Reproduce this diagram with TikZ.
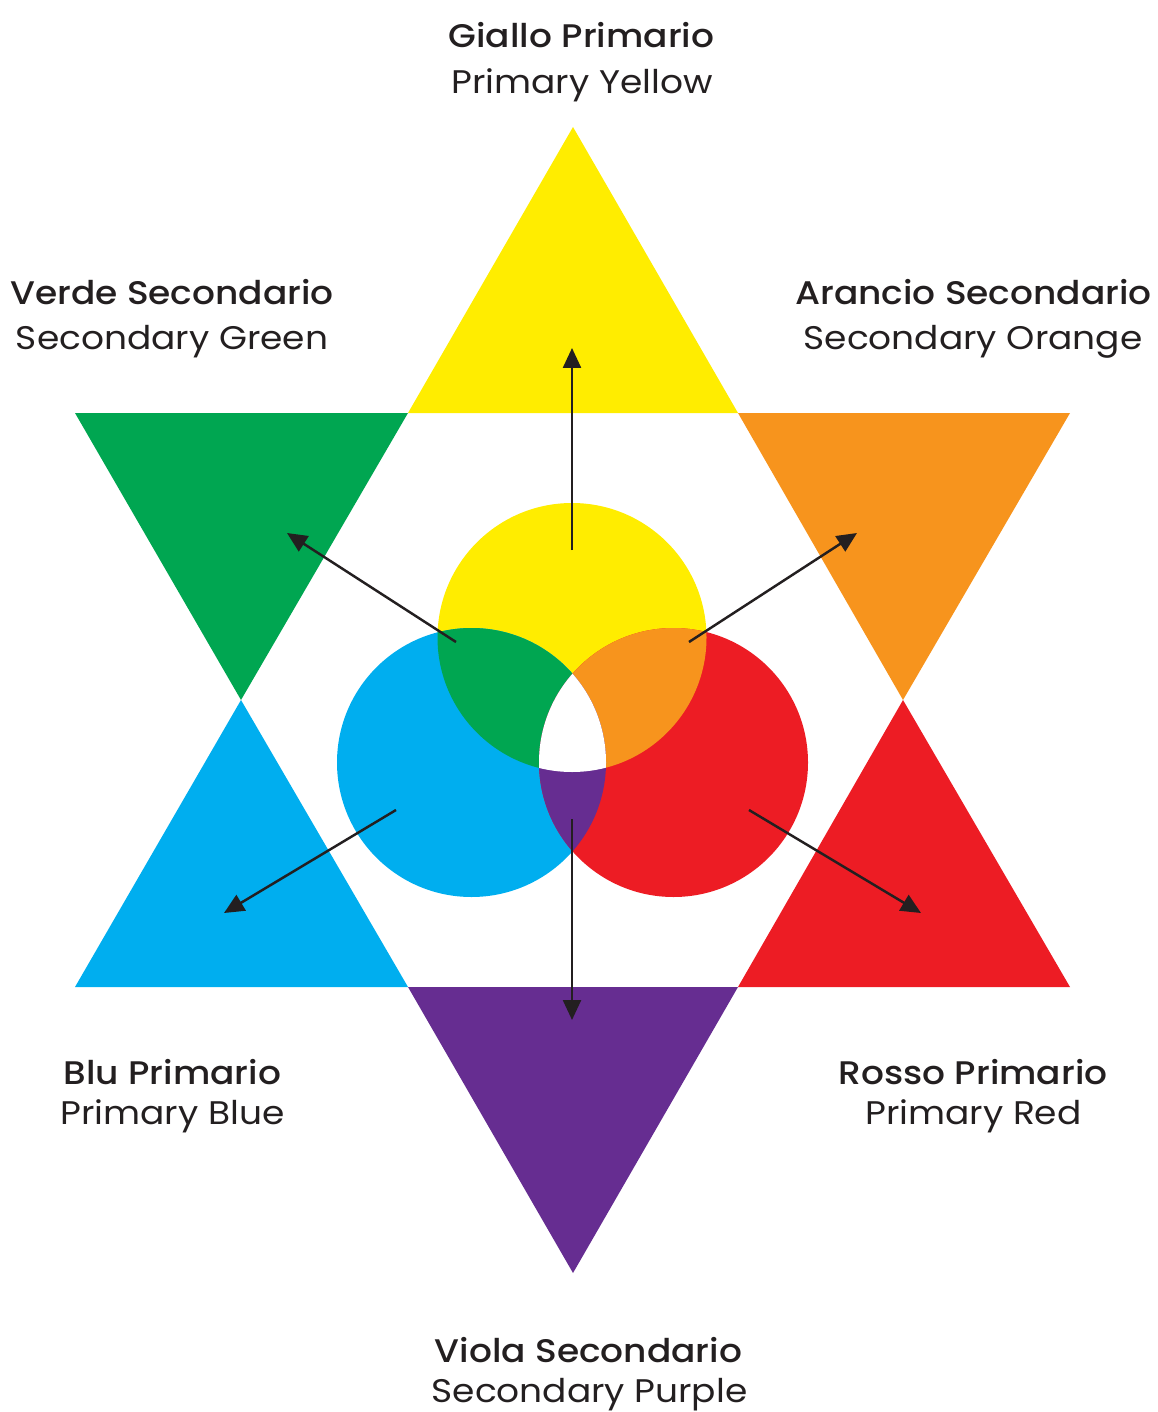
\documentclass[tikz,border=0pt]{standalone}
\usepackage{fontspec}
\setmainfont{Poppins}[BoldFont={Poppins Medium},FakeStretch=1.1]
\usetikzlibrary{arrows.meta}
\definecolor{primyellow}{HTML}{FFED00}
\definecolor{primblue}{HTML}{00AEEF}
\definecolor{primred}{HTML}{ED1C24}
\definecolor{secgreen}{HTML}{00A651}
\definecolor{secorange}{HTML}{F7941D}
\definecolor{secpurple}{HTML}{662D91}
\definecolor{inkgray}{HTML}{231F20}
\newcommand{\drawtri}[4]{% {colour}{a}{b}{c}
  \fill[#1] (#2) -- (#3) -- (#4) -- cycle;
}

\begin{document}
\begin{tikzpicture}[
  title/.style={font=\fontsize{9.3}{11}\selectfont\bfseries,text=inkgray,anchor=base,inner sep=0pt},
  subtitle/.style={font=\fontsize{9.3}{11}\selectfont,text=inkgray,anchor=base,inner sep=0pt},
  mixarrow/.style={-{Triangle[length=2mm,width=1.8mm]},inkgray,line width=0.7pt}
]
  \useasboundingbox (0,0) rectangle (11.58,-14.12);

  % Star points
  \coordinate (top) at (5.73,-1.27);
  \coordinate (upr) at (10.70,-4.13);
  \coordinate (lwr) at (10.70,-9.87);
  \coordinate (bot) at (5.73,-12.73);
  \coordinate (lwl) at (0.75,-9.87);
  \coordinate (upl) at (0.75,-4.13);
  % Inner hexagon
  \coordinate (h1) at (4.08,-4.13);
  \coordinate (h2) at (7.38,-4.13);
  \coordinate (h3) at (9.03,-7.00);
  \coordinate (h4) at (7.38,-9.87);
  \coordinate (h5) at (4.08,-9.87);
  \coordinate (h6) at (2.41,-7.00);

  % Triangles
  \drawtri{primyellow}{top}{h2}{h1}
  \drawtri{secorange}{h2}{upr}{h3}
  \drawtri{primred}{h3}{lwr}{h4}
  \drawtri{secpurple}{h4}{bot}{h5}
  \drawtri{primblue}{h5}{lwl}{h6}
  \drawtri{secgreen}{h6}{upl}{h1}

  % Circles
  \coordinate (cy) at (5.72,-6.375);
  \coordinate (cb) at (4.715,-7.625);
  \coordinate (cr) at (6.735,-7.625);
  \fill[primyellow] (cy) circle (1.345);
  \fill[primblue] (cb) circle (1.345);
  \fill[primred] (cr) circle (1.345);
  \begin{scope}
    \clip (cy) circle (1.345);
    \fill[secgreen] (cb) circle (1.345);
    \fill[secorange] (cr) circle (1.345);
  \end{scope}
  \begin{scope}
    \clip (cb) circle (1.345);
    \fill[secpurple] (cr) circle (1.345);
    \clip (cr) circle (1.345);
    \fill[white] (cy) circle (1.345);
  \end{scope}

  % Arrows
  \coordinate (yt) at (5.72,-5.50);  \coordinate (yh) at (5.72,-3.48);
  \coordinate (ot) at (6.89,-6.42);  \coordinate (oh) at (8.57,-5.33);
  \coordinate (gt) at (4.56,-6.42);  \coordinate (gh) at (2.87,-5.33);
  \coordinate (bt) at (3.96,-8.10);  \coordinate (bh) at (2.24,-9.13);
  \coordinate (rt) at (7.49,-8.10);  \coordinate (rh) at (9.21,-9.13);
  \coordinate (pt) at (5.72,-8.19);  \coordinate (ph) at (5.72,-10.20);
  \foreach \t/\h in {yt/yh,ot/oh,gt/gh,bt/bh,rt/rh,pt/ph}
    \draw[mixarrow] (\t) -- (\h);

  % Labels
  \node[title] (giallo) at (5.815,-0.48) {Giallo Primario};
  \node[subtitle] (yellow) at (5.82,-0.94) {Primary Yellow};
  \node[title] (verde) at (1.72,-3.05) {Verde Secondario};
  \node[subtitle] (green) at (1.72,-3.50) {Secondary Green};
  \node[title] (arancio) at (9.735,-3.05) {Arancio Secondario};
  \node[subtitle] (orange) at (9.73,-3.50) {Secondary Orange};
  \node[title] (blu) at (1.725,-10.84) {Blu Primario};
  \node[subtitle] (blue) at (1.725,-11.24) {Primary Blue};
  \node[title] (rosso) at (9.73,-10.84) {Rosso Primario};
  \node[subtitle] (red) at (9.735,-11.24) {Primary Red};
  \node[title] (viola) at (5.885,-13.62) {Viola Secondario};
  \node[subtitle] (purple) at (5.895,-14.02) {Secondary Purple};
\end{tikzpicture}
\end{document}
